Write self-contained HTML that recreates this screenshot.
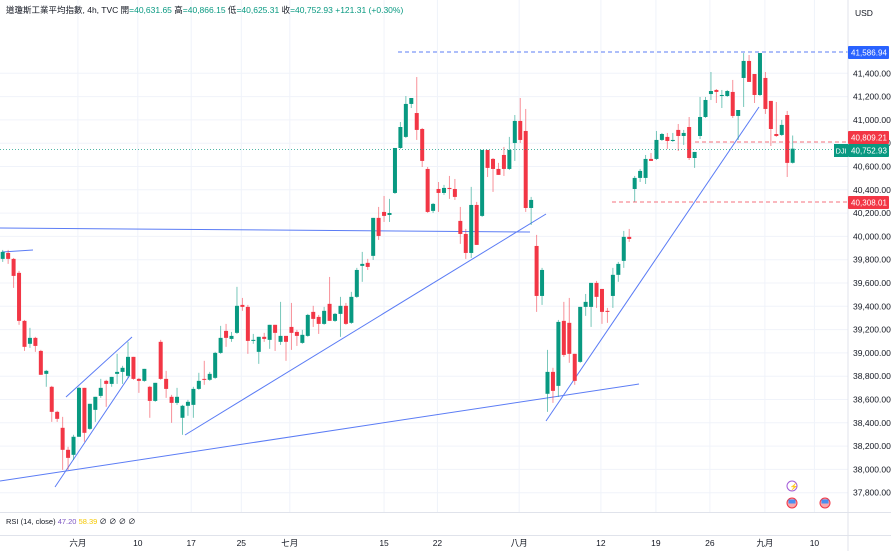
<!DOCTYPE html>
<html><head><meta charset="utf-8"><style>
body{margin:0;background:#fff;font-family:"Liberation Sans","Noto Sans CJK TC",sans-serif;}
svg text{font-family:"Liberation Sans","Noto Sans CJK TC",sans-serif;}
</style></head><body>
<svg id="c" width="891" height="551" xmlns="http://www.w3.org/2000/svg">
<rect width="891" height="551" fill="#fff"/>
<g id="grid"></g><g id="lines"></g><g id="candles"></g><g id="axis"></g>
</svg>
<script>
const opens=[39807,39858,39807,39687,39275,39078,39129,39017,38820,38709,38494,38357,38168,38125,38280,38700,38348,38511,38631,38760,38734,38820,38837,38803,38966,38777,38760,38709,38588,39095,38777,38623,38571,38443,38546,38554,38691,38777,38769,38786,39000,39189,39120,39172,39412,39395,39103,39009,39138,39112,39241,39095,39146,39223,39180,39086,39146,39352,39309,39249,39421,39275,39335,39404,39258,39481,39747,39773,39833,40159,40210,40184,40373,40759,40854,41137,41059,40922,40579,40219,40407,40373,40416,40407,40133,40021,39858,40270,40176,40742,40665,40579,40699,40579,40802,40991,40905,40244,39918,39489,38649,38837,38717,39275,39258,38992,38923,39395,39395,39601,39549,39361,39489,39670,39790,39996,40407,40502,40502,40665,40665,40828,40854,40819,40914,40862,40939,40673,40862,41025,41222,41257,41205,41205,41240,41034,41360,41506,41394,41214,41360,41163,40879,40871,41042,40631.65];
const highs=[39884,39884,39815,39704,39283,39215,39138,39026,38854,38717,38503,38451,38194,38297,38709,38700,38563,38623,38777,38769,38794,38992,38889,39095,38966,38786,38863,38717,38743,39112,38846,38640,38700,38554,38597,38709,38829,38932,38837,39009,39232,39249,39180,39567,39472,39412,39163,39138,39172,39241,39241,39438,39146,39429,39198,39198,39335,39404,39326,39395,39652,39343,39481,39429,39524,39730,39867,39807,40159,40253,40347,40322,40759,40982,41205,41188,41368,40931,40596,40287,40467,40442,40519,40493,40253,40064,40425,40296,40742,40742,40673,40631,40768,40854,41042,41188,41094,40339,40013,39730,39026,38872,39283,39438,39472,38992,39395,39506,39601,39618,39549,39386,39730,39781,40047,40064,40519,40579,40699,40716,40905,40888,40888,40888,40965,40914,41025,40725,41197,41197,41411,41265,41257,41257,41343,41085,41574,41557,41394,41574,41411,41163,41154,41000,41077,40866.15];
const lows=[39781,39764,39558,39241,39017,39043,39009,38812,38709,38408,38408,37996,37996,38082,38280,38237,38340,38408,38614,38537,38709,38734,38734,38786,38769,38657,38752,38443,38580,38769,38614,38400,38554,38297,38460,38443,38683,38726,38760,38777,38992,39052,39095,39163,39361,38992,39078,38906,39095,39035,39017,39069,38932,39026,39060,39078,39138,39223,39163,39241,39275,39266,39138,39241,39249,39472,39610,39712,39798,39970,40124,40124,40364,40751,40845,41102,40828,40596,40201,40201,40210,40356,40322,40313,39936,39807,39815,39927,40167,40510,40382,40528,40519,40570,40648,40802,40210,40098,39352,39412,38494,38571,38623,38966,38915,38726,38915,39318,39223,39386,39249,39258,39386,39610,39730,39953,40296,40467,40450,40648,40656,40819,40751,40811,40733,40785,40656,40588,40836,41017,41171,41145,41102,41197,41017,40828,41111,41326,41145,41205,41051,40776,40854,40862,40510,40625.31];
const closes=[39867,39807,39661,39275,39052,39129,39060,38812,38846,38494,38434,38168,38099,38280,38700,38314,38563,38623,38700,38734,38794,38837,38872,38966,38777,38760,38863,38588,38743,38777,38691,38571,38623,38546,38580,38691,38760,38769,38820,39000,39129,39129,39146,39404,39395,39103,39112,39138,39120,39241,39172,39146,39095,39172,39146,39155,39326,39292,39249,39361,39275,39335,39404,39249,39481,39712,39764,39738,40159,40004,40176,40201,40759,40939,41137,41188,40914,40648,40210,40279,40373,40416,40407,40339,40021,39858,40270,39927,40742,40588,40579,40528,40579,40742,40991,40828,40244,40313,39489,39712,38837,38674,39266,38983,38992,38760,39395,39438,39601,39481,39352,39352,39670,39764,39996,39978,40502,40562,40665,40648,40828,40879,40819,40828,40862,40888,40673,40725,41025,41171,41248,41240,41214,41248,41034,41085,41506,41326,41214,41574,41094,40922,40862,40957,40631,40752.93];
const priceTicks=[41400,41200,41000,40800,40600,40400,40200,40000,39800,39600,39400,39200,39000,38800,38600,38400,38200,38000,37800];
const timeLabels=["六月","10","17","25","七月","15","22","八月","12","19","26","九月","10"];
const timeIdx=[13.8,24.8,34.6,43.8,52.7,70,79.8,94.8,109.8,119.9,129.8,139.9,149];
const NS="http://www.w3.org/2000/svg";
function y(p){return 73.3+(41400-p)*23.3/200;}
function x(i){return 2.7+i*5.448;}
function mk(tag,attrs,parent,txt){const e=document.createElementNS(NS,tag);for(const k in attrs)e.setAttribute(k,attrs[k]);if(txt!==undefined)e.textContent=txt;document.getElementById(parent).appendChild(e);return e;}
priceTicks.forEach(p=>{const l=mk('line',{x1:0,x2:848,y1:y(p),y2:y(p),stroke:'#f0f3fa'},'grid');


const t=mk('text',{x:853,y:y(p)+3,'font-size':'8.5',fill:'#131722'},'axis',p.toLocaleString('en-US')+'.00');

});
timeLabels.forEach((s,k)=>{const xx=x(timeIdx[k]);const l=mk('line',{x1:xx,x2:xx,y1:0,y2:512,stroke:'#f0f3fa'},'grid');


const t=mk('text',{x:xx,y:546,'font-size':'8.5',fill:'#131722','text-anchor':'middle'},'axis',s);

});
for(let i=0;i<opens.length;i++){const up=closes[i]>=opens[i];const col=up?'#089981':'#f23645';const cx=x(i);
const w=mk('line',{x1:cx,x2:cx,y1:y(highs[i]),y2:y(lows[i]),stroke:col,'stroke-opacity':0.55,'stroke-width':1},'candles');


const top=y(Math.max(opens[i],closes[i]));const h=Math.max(1,y(Math.min(opens[i],closes[i]))-top);
const b=mk('rect',{x:cx-2,y:top,width:4,height:h,fill:col},'candles');

}
const tl=[[2,252,33,250],[0,228,530,232],[0,481,639,384],[66,397,132,337],[55,487,130,375],[185,435,546,214],[546,421,759,107]];
tl.forEach(a=>{const l=mk('line',{x1:a[0],y1:a[1],x2:a[2],y2:a[3],stroke:'#5b7cf5','stroke-width':1},'lines');

});
</script>
<svg style="position:absolute;left:0;top:0" width="891" height="551" xmlns="http://www.w3.org/2000/svg">
<line x1="398" y1="52" x2="848" y2="52" stroke="#5b7cf5" stroke-dasharray="4,3"/>
<line x1="695" y1="142" x2="848" y2="142" stroke="#f23645" stroke-opacity="0.7" stroke-dasharray="4,3"/>
<line x1="612" y1="202" x2="848" y2="202" stroke="#f23645" stroke-opacity="0.7" stroke-dasharray="4,3"/>
<line x1="0" y1="149.5" x2="848" y2="149.5" stroke="#089981" stroke-opacity="0.7" stroke-dasharray="1,2"/>
<line x1="848" y1="0" x2="848" y2="551" stroke="#e0e3eb"/>
<line x1="0" y1="512.5" x2="891" y2="512.5" stroke="#e0e3eb"/>
<line x1="0" y1="535.5" x2="891" y2="535.5" stroke="#e0e3eb"/>
<text x="855" y="16" font-size="8.5" fill="#131722">USD</text>
<rect x="848" y="46" width="41" height="13" rx="1" fill="#2962ff"/>
<text x="851" y="55.5" font-size="8" textLength="36" fill="#fff">41,586.94</text>
<rect x="848" y="131" width="41" height="13" rx="1" fill="#f23645"/>
<text x="851" y="140.5" font-size="8" textLength="36" fill="#fff">40,809.21</text>
<rect x="834" y="144" width="14" height="13" fill="#089981"/>
<text x="835.5" y="153.5" font-size="7.5" fill="#fff">DJI</text>
<rect x="848" y="144" width="41" height="13" rx="1" fill="#089981"/>
<text x="851" y="153.5" font-size="8" textLength="36" fill="#fff">40,752.93</text>
<rect x="848" y="196" width="41" height="13" rx="1" fill="#f23645"/>
<text x="851" y="205.5" font-size="8" textLength="36" fill="#fff">40,308.01</text>
<text x="6" y="13" font-size="8.5" fill="#131722">道瓊斯工業平均指數, 4h, TVC  開<tspan fill="#089981">=40,631.65</tspan>  高<tspan fill="#089981">=40,866.15</tspan>  低<tspan fill="#089981">=40,625.31</tspan>  收<tspan fill="#089981">=40,752.93  +121.31 (+0.30%)</tspan></text>
<text x="6" y="524" font-size="7.5" fill="#131722">RSI (14, close) <tspan fill="#7e57c2">47.20</tspan> <tspan fill="#f5c800">58.39</tspan> ∅ ∅ ∅ ∅</text>
<g><circle cx="792" cy="486" r="5" fill="#fff" stroke="#a35bd8"/><text x="789.5" y="489" font-size="7" fill="#a35bd8">⚡</text></g>
<g><circle cx="792" cy="503" r="5" fill="#f7a8ae" stroke="#f23645"/><rect x="788.5" y="499.5" width="7" height="4" fill="#4a8ef0"/></g>
<g><circle cx="825" cy="503" r="5" fill="#f7a8ae" stroke="#f23645"/><rect x="821.5" y="499.5" width="7" height="4" fill="#4a8ef0"/></g>
</svg>
</body></html>
